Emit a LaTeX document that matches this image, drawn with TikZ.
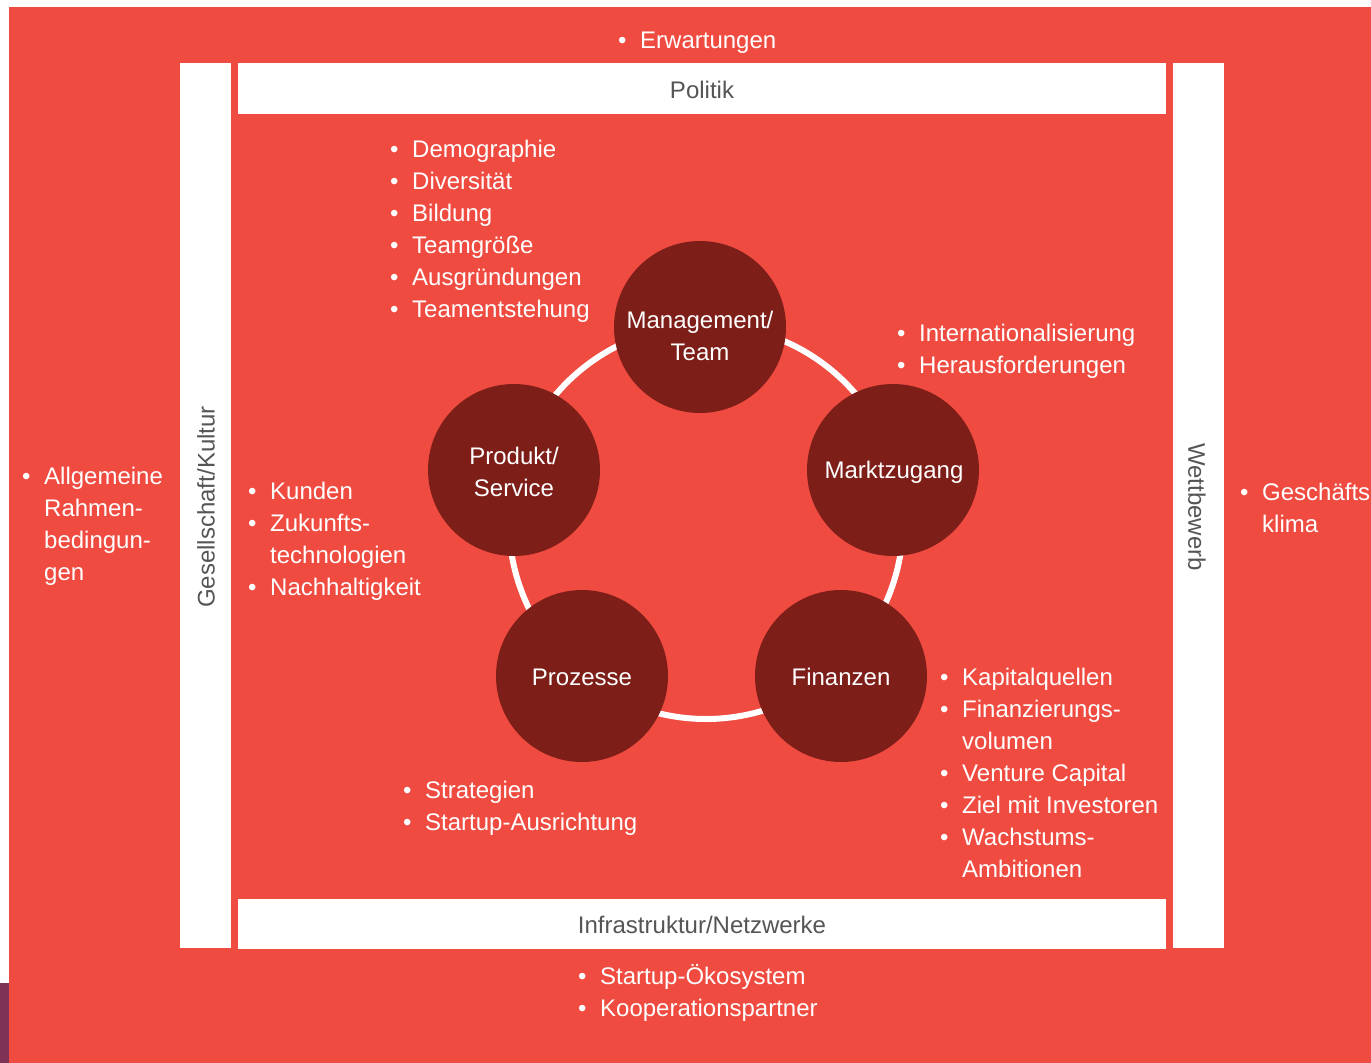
\documentclass[tikz,border=0pt]{standalone}
\usepackage{fontspec}
\setmainfont{Liberation Sans}
\definecolor{bgred}{RGB}{239,75,64}
\definecolor{discred}{RGB}{125,30,24}
\definecolor{boxgray}{RGB}{85,85,85}
\definecolor{edgepurple}{RGB}{126,50,86}
\newcommand{\bl}{\strut\makebox[22pt][l]{\textbullet}}
\newcommand{\cl}{\strut\hspace*{22pt}}
\begin{document}
\begin{tikzpicture}[x=1pt,y=-1pt,
  every node/.style={font=\fontsize{24}{32}\selectfont},
  wbox/.style={fill=white, draw=none},
  boxlabel/.style={text=boxgray, inner sep=0},
  disc/.style={circle, fill=discred, minimum size=172pt, inner sep=0},
  disctext/.style={text=white, align=center, inner sep=0},
  blist/.style={text=white, align=left, anchor=north west, inner sep=0},
  ring/.style={draw=white, line width=6pt}]
\useasboundingbox (0,0) rectangle (1371,1063);
% background
\fill[bgred] (0,0) rectangle (1371,1063);
\fill[white] (0,0) rectangle (1371,7);
\fill[white] (0,0) rectangle (9,983);
\fill[edgepurple] (0,983) rectangle (9,1063);
% frame boxes
\fill[wbox] (180,63) rectangle (231,948);
\fill[wbox] (1173,63) rectangle (1224,948);
\fill[wbox] (238,63) rectangle (1166,114);
\fill[wbox] (238,899) rectangle (1166,949);
\node[boxlabel] (politik) at (702,90) {Politik};
\node[boxlabel] (infra) at (702,925) {Infrastruktur/Netzwerke};
\node[boxlabel, rotate=90] (gesell) at (206,507) {Gesellschaft/Kultur};
\node[boxlabel, rotate=-90] (wettb) at (1197,507) {Wettbewerb};
% ring and discs
\coordinate (ringc) at (706,522);
\draw[ring] (ringc) circle[radius=197];
\node[disc] (mgmt) at (700,327) {};
\node[disc] (markt) at (893,470) {};
\node[disc] (fin) at (841,676) {};
\node[disc] (proz) at (582,676) {};
\node[disc] (prod) at (514,470) {};
\node[disctext] (mgmtt) at (700,336) {Management/\\Team};
\node[disctext] (marktt) at (894,472) {Marktzugang};
\node[disctext] (fint) at (841,677) {Finanzen};
\node[disctext] (prozt) at (582,677) {Prozesse};
\node[disctext] (prodt) at (514,472) {Produkt/\\Service};
% bullet lists
\node[blist] (l1) at (618,25.6) {\bl Erwartungen};
\node[blist] (l2) at (390,134.6) {\bl Demographie\\\bl Diversität\\\bl Bildung\\\bl Teamgröße\\\bl Ausgründungen\\\bl Teamentstehung};
\node[blist] (l3) at (897,318.6) {\bl Internationalisierung\\\bl Herausforderungen};
\node[blist] (l4) at (22,461.6) {\bl Allgemeine\\\cl Rahmen-\\\cl bedingun-\\\cl gen};
\node[blist] (l5) at (248,476.6) {\bl Kunden\\\bl Zukunfts-\\\cl technologien\\\bl Nachhaltigkeit};
\node[blist] (l6) at (1240,477.6) {\bl Geschäfts\\\cl klima};
\node[blist] (l7) at (403,775.6) {\bl Strategien\\\bl Startup-Ausrichtung};
\node[blist] (l8) at (940,662.6) {\bl Kapitalquellen\\\bl Finanzierungs-\\\cl volumen\\\bl Venture Capital\\\bl Ziel mit Investoren\\\bl Wachstums-\\\cl Ambitionen};
\node[blist] (l9) at (578,961.6) {\bl Startup-Ökosystem\\\bl Kooperationspartner};
\end{tikzpicture}
\end{document}
